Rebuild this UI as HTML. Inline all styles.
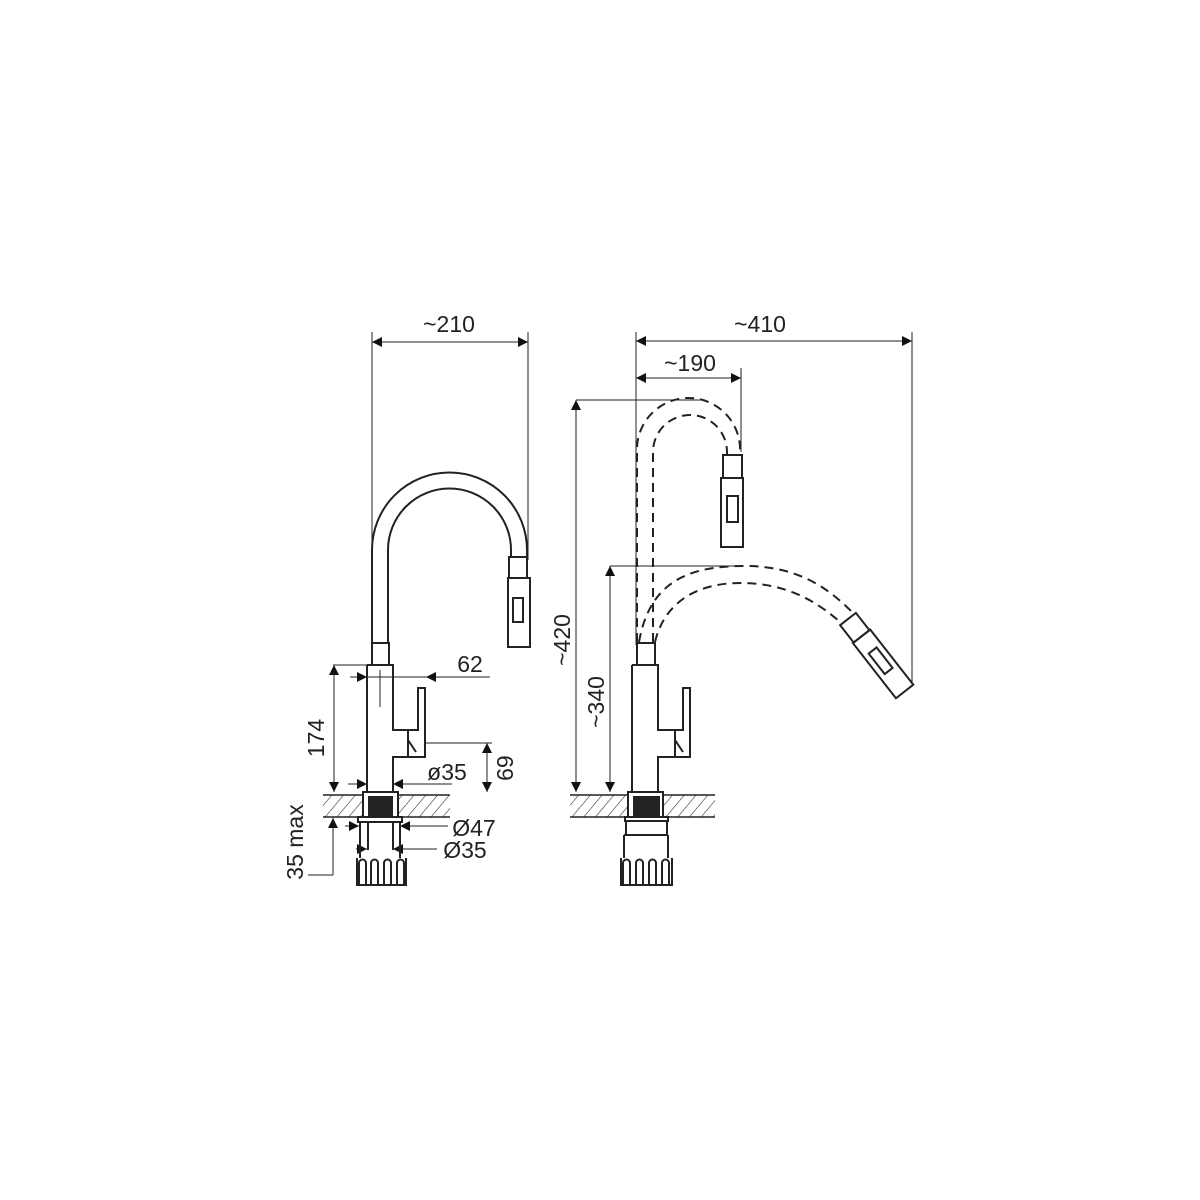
<!DOCTYPE html>
<html><head><meta charset="utf-8"><style>
html,body{margin:0;padding:0;background:#fff}
svg{display:block}
text{font-family:"Liberation Sans","DejaVu Sans",sans-serif;fill:#222;font-size:23px}
</style></head><body>
<svg width="1200" height="1200" viewBox="0 0 1200 1200" xmlns="http://www.w3.org/2000/svg">
<defs>
<pattern id="h" width="9" height="9" patternUnits="userSpaceOnUse" patternTransform="rotate(40)">
<line x1="0" y1="0" x2="0" y2="9" stroke="#222" stroke-width="1.1"/>
</pattern>
<marker id="a" viewBox="0 0 10 10" refX="10" refY="5" markerWidth="12" markerHeight="10" markerUnits="userSpaceOnUse" orient="auto-start-reverse">
<path d="M0,0 L10,5 L0,10 z" fill="#111"/>
</marker>
</defs>

<g fill="none" stroke="#222" stroke-width="1">
<line x1="372" y1="332" x2="372" y2="645"/>
<line x1="528" y1="332" x2="528" y2="560"/>
<line x1="372" y1="342" x2="528" y2="342" marker-start="url(#a)" marker-end="url(#a)"/>
<line x1="333" y1="665" x2="367" y2="665"/>
<line x1="334" y1="665" x2="334" y2="792" marker-start="url(#a)" marker-end="url(#a)"/>
<line x1="350" y1="677" x2="367" y2="677" marker-end="url(#a)"/>
<line x1="367" y1="677" x2="426" y2="677"/>
<line x1="490" y1="677" x2="426" y2="677" marker-end="url(#a)"/>
<line x1="426" y1="743" x2="492" y2="743"/>
<line x1="487" y1="743" x2="487" y2="792" marker-start="url(#a)" marker-end="url(#a)"/>
<line x1="348" y1="784" x2="367" y2="784" marker-end="url(#a)"/>
<line x1="452" y1="784" x2="393" y2="784" marker-end="url(#a)"/>
<line x1="345" y1="826" x2="359" y2="826" marker-end="url(#a)"/>
<line x1="448" y1="826" x2="400" y2="826" marker-end="url(#a)"/>
<line x1="356" y1="849" x2="367" y2="849" marker-end="url(#a)"/>
<line x1="437" y1="849" x2="393" y2="849" marker-end="url(#a)"/>
<line x1="333" y1="875" x2="333" y2="818" marker-end="url(#a)"/>
<line x1="308" y1="875" x2="333" y2="875"/>
<line x1="380" y1="670" x2="380" y2="707"/>

<line x1="636" y1="332" x2="636" y2="645"/>
<line x1="912" y1="332" x2="912" y2="682"/>
<line x1="636" y1="341" x2="912" y2="341" marker-start="url(#a)" marker-end="url(#a)"/>
<line x1="741" y1="368" x2="741" y2="452"/>
<line x1="636" y1="378" x2="741" y2="378" marker-start="url(#a)" marker-end="url(#a)"/>
<line x1="576" y1="400" x2="700" y2="400"/>
<line x1="576" y1="400" x2="576" y2="792" marker-start="url(#a)" marker-end="url(#a)"/>
<line x1="610" y1="566" x2="742" y2="566"/>
<line x1="610" y1="566" x2="610" y2="792" marker-start="url(#a)" marker-end="url(#a)"/>
</g>

<g fill="none" stroke="#222" stroke-width="2">
<path d="M372 643 L372 550 A77.5 77.5 0 0 1 527 550 L527 557"/>
<path d="M388 643 L388 550 A61.5 61.5 0 0 1 511 550 L511 557"/>
<rect x="509" y="557" width="18" height="21"/>
<rect x="508" y="578" width="22" height="69"/>
<rect x="513" y="598" width="10" height="24"/>
<rect x="372" y="643" width="17" height="22"/>
<path d="M367 665 H393 V730 H418 V688 H425 V730 V757 H408 V730 M408 757 H393 V792 M367 665 V792"/>
<path d="M408 740 L416 752"/>
<rect x="323" y="795" width="127" height="22" fill="url(#h)" stroke="none"/>
<line x1="323" y1="795" x2="450" y2="795" stroke-width="1.5"/>
<line x1="323" y1="817" x2="450" y2="817" stroke-width="1.5"/>
<rect x="363" y="792" width="35" height="25" fill="#fff"/>
<rect x="369" y="797" width="23" height="20" fill="#222"/>
<rect x="358" y="817" width="44" height="5" fill="#fff"/>
<path d="M360 822 V858 M400 822 V858 M368 822 V850 M393 822 V850"/>
<path d="M357 858 V885 H406 V858"/>
<path d="M359 885 V863 a3.5 3.5 0 0 1 7 0 V885 M371 885 V863 a3.5 3.5 0 0 1 7 0 V885 M384 885 V863 a3.5 3.5 0 0 1 7 0 V885 M397 885 V863 a3.5 3.5 0 0 1 7 0 V885"/>

<rect x="637" y="643" width="18" height="22"/>
<path d="M632 665 H658 V730 H683 V688 H690 V730 V757 H675 V730 M675 757 H658 V792 M632 665 V792"/>
<path d="M675 740 L683 752"/>
<rect x="570" y="795" width="145" height="22" fill="url(#h)" stroke="none"/>
<line x1="570" y1="795" x2="715" y2="795" stroke-width="1.5"/>
<line x1="570" y1="817" x2="715" y2="817" stroke-width="1.5"/>
<rect x="628" y="792" width="35" height="25" fill="#fff"/>
<rect x="634" y="797" width="25" height="20" fill="#222"/>
<rect x="625" y="817" width="43" height="4" fill="#fff"/>
<path d="M626 821 V835 M667 821 V835 M624 835 H668 M624 835 V858 M668 835 V858"/>
<path d="M621 858 V885 H672 V858"/>
<path d="M623 885 V863 a3.5 3.5 0 0 1 7 0 V885 M636 885 V863 a3.5 3.5 0 0 1 7 0 V885 M649 885 V863 a3.5 3.5 0 0 1 7 0 V885 M662 885 V863 a3.5 3.5 0 0 1 7 0 V885"/>

<rect x="723" y="455" width="19" height="23"/>
<rect x="721" y="478" width="22" height="69"/>
<rect x="727" y="496" width="11" height="26"/>
<g transform="translate(848,619) rotate(-38)">
<rect x="-10" y="0" width="20" height="22"/>
<rect x="-11" y="22" width="22" height="70"/>
<rect x="-5" y="40" width="10" height="26"/>
</g>
</g>

<g fill="none" stroke="#222" stroke-width="2" stroke-dasharray="9 6">
<path d="M637 642 L637 452 A51 51 0 0 1 740 447 L740 455"/>
<path d="M653 642 L653 452 A36 36 0 0 1 727 452 L727 455"/>
<path d="M639 642 C650 580 690 566 745 566 C800 566 830 590 852 612"/>
<path d="M655 642 C665 600 700 583 740 583 C785 583 815 600 840 622"/>
</g>

<text x="449" y="332" text-anchor="middle">~210</text>
<text x="470" y="672" text-anchor="middle">62</text>
<text x="447" y="780" text-anchor="middle">ø35</text>
<text x="474" y="836" text-anchor="middle">Ø47</text>
<text x="465" y="858" text-anchor="middle">Ø35</text>
<text transform="translate(324,738) rotate(-90)" text-anchor="middle">174</text>
<text transform="translate(497,768) rotate(90)" text-anchor="middle">69</text>
<text transform="translate(303,842) rotate(-90)" text-anchor="middle">35 max</text>
<text x="760" y="332" text-anchor="middle">~410</text>
<text x="690" y="371" text-anchor="middle">~190</text>
<text transform="translate(570,640) rotate(-90)" text-anchor="middle">~420</text>
<text transform="translate(604,702) rotate(-90)" text-anchor="middle">~340</text>
</svg>
</body></html>
